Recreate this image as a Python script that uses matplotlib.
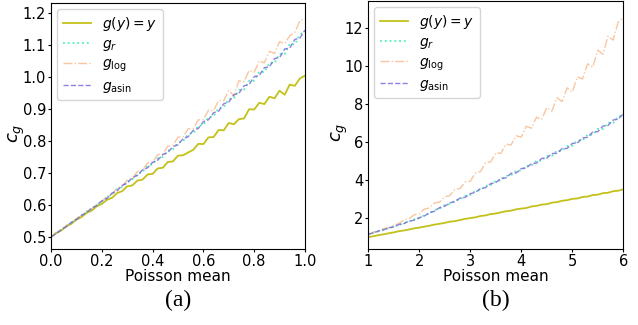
import numpy as np
import matplotlib
matplotlib.use("Agg")
import matplotlib.pyplot as plt

# panel (a): Poisson mean 0..1
mean_a = np.round(np.arange(0, 1.0001, 0.02), 2)
ident_a = [0.500, 0.512, 0.520, 0.533, 0.541, 0.554, 0.562, 0.575, 0.582, 0.596,
           0.603, 0.616, 0.622, 0.637, 0.643, 0.658, 0.661, 0.676, 0.679, 0.695,
           0.697, 0.714, 0.716, 0.734, 0.736, 0.754, 0.755, 0.764, 0.772, 0.791,
           0.790, 0.811, 0.812, 0.834, 0.833, 0.856, 0.852, 0.868, 0.870, 0.899,
           0.898, 0.919, 0.915, 0.938, 0.933, 0.957, 0.944, 0.976, 0.972, 0.995,
           1.004]
gr_a = [0.500, 0.512, 0.521, 0.535, 0.543, 0.557, 0.565, 0.579, 0.587, 0.601,
        0.609, 0.625, 0.632, 0.649, 0.656, 0.673, 0.680, 0.697, 0.703, 0.722,
        0.727, 0.746, 0.750, 0.770, 0.774, 0.794, 0.799, 0.821, 0.824, 0.847,
        0.850, 0.874, 0.877, 0.903, 0.905, 0.931, 0.933, 0.959, 0.960, 0.988,
        0.988, 1.016, 1.015, 1.044, 1.043, 1.072, 1.071, 1.103, 1.101, 1.132,
        1.142]
glog_a = [0.500, 0.512, 0.521, 0.535, 0.543, 0.558, 0.566, 0.580, 0.587, 0.603,
          0.610, 0.627, 0.633, 0.653, 0.658, 0.678, 0.683, 0.704, 0.708, 0.731,
          0.734, 0.757, 0.759, 0.784, 0.786, 0.812, 0.812, 0.838, 0.839, 0.866,
          0.866, 0.896, 0.894, 0.927, 0.925, 0.958, 0.940, 0.988, 0.985, 1.020,
          1.014, 1.050, 1.044, 1.080, 1.073, 1.110, 1.104, 1.128, 1.138, 1.176,
          1.182]
gasin_a = [0.500, 0.510, 0.523, 0.532, 0.546, 0.554, 0.568, 0.576, 0.590, 0.598,
           0.613, 0.620, 0.637, 0.644, 0.661, 0.668, 0.685, 0.692, 0.709, 0.716,
           0.733, 0.740, 0.757, 0.764, 0.782, 0.788, 0.807, 0.813, 0.833, 0.839,
           0.860, 0.866, 0.888, 0.893, 0.916, 0.921, 0.944, 0.949, 0.972, 0.976,
           1.001, 1.004, 1.029, 1.031, 1.057, 1.060, 1.087, 1.090, 1.117, 1.121,
           1.146]

# panel (b): Poisson mean 1..6
mean_b = np.round(np.arange(1, 6.0001, 0.1), 1)
ident_b = [1.00, 1.05, 1.10, 1.15, 1.20, 1.25, 1.31, 1.35, 1.40, 1.46,
           1.50, 1.55, 1.60, 1.66, 1.70, 1.75, 1.81, 1.84, 1.90, 1.96,
           2.00, 2.04, 2.11, 2.14, 2.21, 2.24, 2.30, 2.36, 2.39, 2.46,
           2.50, 2.53, 2.61, 2.64, 2.71, 2.73, 2.81, 2.84, 2.91, 2.94,
           3.01, 3.03, 3.11, 3.13, 3.21, 3.23, 3.31, 3.33, 3.41, 3.44,
           3.51]
gr_b = [1.15, 1.24, 1.30, 1.40, 1.46, 1.56, 1.63, 1.75, 1.81, 1.93,
        1.99, 2.15, 2.24, 2.42, 2.50, 2.68, 2.74, 2.93, 2.98, 3.17,
        3.22, 3.42, 3.47, 3.69, 3.73, 3.95, 3.98, 4.22, 4.24, 4.48,
        4.50, 4.74, 4.76, 5.01, 5.01, 5.27, 5.27, 5.53, 5.52, 5.79,
        5.79, 6.08, 6.08, 6.38, 6.37, 6.69, 6.67, 7.01, 6.99, 7.34,
        7.40]
glog_b = [1.15, 1.25, 1.32, 1.44, 1.50, 1.63, 1.71, 1.90, 1.96, 2.17,
          2.22, 2.47, 2.53, 2.80, 2.84, 3.12, 3.18, 3.51, 3.55, 3.90,
          3.93, 4.36, 4.44, 4.90, 4.95, 5.42, 5.40, 5.88, 5.84, 6.32,
          6.25, 6.82, 6.72, 7.30, 7.18, 7.80, 7.62, 8.32, 8.12, 8.84,
          8.62, 9.42, 9.30, 10.10, 9.92, 10.82, 10.60, 11.55, 11.35, 12.30,
          12.55]
gasin_b = [1.15, 1.22, 1.32, 1.38, 1.48, 1.54, 1.66, 1.71, 1.84, 1.89,
           2.02, 2.11, 2.28, 2.36, 2.55, 2.62, 2.80, 2.86, 3.05, 3.09,
           3.28, 3.35, 3.55, 3.60, 3.81, 3.86, 4.08, 4.11, 4.35, 4.37,
           4.60, 4.63, 4.86, 4.89, 5.13, 5.15, 5.39, 5.40, 5.65, 5.66,
           5.92, 5.94, 6.21, 6.24, 6.52, 6.54, 6.83, 6.86, 7.15, 7.19,
           7.48]

labels = [r"$g(y) = y$", r"$g_r$", r"$g_{\mathrm{log}}$", r"$g_{\mathrm{asin}}$"]


def dibujar(ax, x, series, xlab):
    ax.plot(x, series[0], color="#bdbb00", lw=1.3, alpha=0.9, label=labels[0])
    ax.plot(x, series[1], color="#20f0a0", lw=1.3, ls=":", alpha=0.8, label=labels[1])
    ax.plot(x, series[2], color="#f5a060", lw=1.0, ls="-.", alpha=0.6, label=labels[2])
    ax.plot(x, series[3], color="#7a5ce0", lw=1.0, ls="--", alpha=0.8, label=labels[3])
    ax.set_xlabel("Poisson mean", fontsize=11, labelpad=0)
    ax.set_ylabel(r"$c_g$", fontsize=13)
    ax.yaxis.set_label_coords(xlab, 0.47)
    ax.tick_params(labelsize=10.5, length=2.5, pad=1)
    ax.legend(loc="upper left", fontsize=10, handlelength=2.0,
              labelspacing=0.3, borderaxespad=0.45)


fig = plt.figure(figsize=(6.38, 3.25), dpi=100)
ax1 = fig.add_axes([0.080, 0.234, 0.398, 0.757])
ax2 = fig.add_axes([0.577, 0.234, 0.400, 0.763])

dibujar(ax1, mean_a, [ident_a, gr_a, glog_a, gasin_a], -0.095)
ax1.set_xlim(0, 1)
ax1.set_ylim(0.4625, 1.231)
ax1.set_xticks([0.0, 0.2, 0.4, 0.6, 0.8, 1.0])
ax1.set_yticks([0.5, 0.6, 0.7, 0.8, 0.9, 1.0, 1.1, 1.2])

dibujar(ax2, mean_b, [ident_b, gr_b, glog_b, gasin_b], -0.07)
ax2.set_xlim(1, 6)
ax2.set_ylim(0.38, 13.4)
ax2.set_yticks([2, 4, 6, 8, 10, 12])

fig.text(0.279, 0.075, "(a)", ha="center", va="center", fontsize=17, family="Liberation Serif")
fig.text(0.777, 0.075, "(b)", ha="center", va="center", fontsize=17, family="Liberation Serif")

fig.savefig("out.png", dpi=100)
